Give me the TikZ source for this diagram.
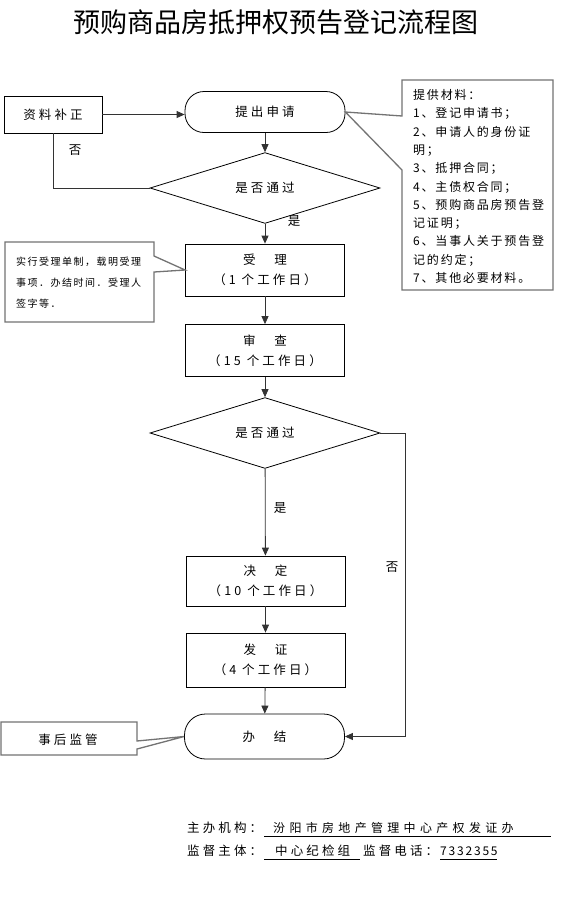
\documentclass[tikz,border=0pt]{standalone}
\usepackage{fontspec}
\setmainfont{Noto Sans CJK SC}
\newfontfamily\titlefont{Noto Sans CJK SC}
\newfontfamily\boxfont[LetterSpace=25]{Noto Sans CJK SC}
\newfontfamily\widefont[LetterSpace=36]{Noto Sans CJK SC}
\newfontfamily\notefont[LetterSpace=15]{Noto Sans CJK SC}
\usetikzlibrary{shapes.geometric, arrows.meta, positioning}

\begin{document}
\begin{tikzpicture}[
    x=1pt, y=-1pt,
    stepbox/.style={rectangle, draw=black, line width=0.8pt,
                minimum width=159pt, minimum height=52pt, inner sep=0pt,
                font=\boxfont\fontsize{12.5}{20}\selectfont, align=center},
    endbox/.style={rectangle, rounded corners=19pt, draw=black, line width=0.8pt,
                minimum width=160pt, minimum height=41pt, inner sep=0pt,
                font=\boxfont\fontsize{12.5}{14}\selectfont},
    decide/.style={diamond, draw=black, line width=0.8pt,
                minimum width=230pt, minimum height=58pt, inner sep=0pt,
                font=\boxfont\fontsize{12.5}{14}\selectfont},
    callout/.style={draw=black!55, line width=1.3pt, line join=miter},
    lbl/.style={inner sep=0pt, font=\boxfont\fontsize{12.5}{14}\selectfont},
    arr/.style={-{Triangle[length=8pt, width=7pt]}, line width=0.8pt, black!80},
    link/.style={line width=0.8pt, black!80}
]
\path[use as bounding box, fill=white] (0,0) rectangle (562,906);

\node[inner sep=0pt, font=\titlefont\fontsize{27}{30}\selectfont] (title) at (276,22)
    {预购商品房抵押权预告登记流程图};

\node[rectangle, draw=black, line width=0.8pt, minimum width=98pt, minimum height=37pt,
      inner sep=0pt, font=\boxfont\fontsize{12.5}{14}\selectfont] (fix) at (53,114.5) {资料补正};
\node[endbox] (submit) at (265,112) {提出申请};
\node[decide] (check1) at (265,188) {是否通过};
\node[stepbox] (accept) at (265,270) {受　理\\（1 个工作日）};
\node[stepbox] (review) at (265,350.5) {审　查\\（15 个工作日）};
\node[decide] (check2) at (265,433) {是否通过};
\node[stepbox, minimum height=50pt] (decision) at (265.5,581) {决　定\\（10 个工作日）};
\node[stepbox, minimum height=54pt] (issue) at (265.5,660) {发　证\\（4 个工作日）};
\node[endbox, minimum height=45pt, rounded corners=21pt] (finish) at (264.5,736.5) {办　结};
\coordinate (turn) at (405,433);

\draw[arr] (fix.east) -- (fix.east -| submit.west);
\draw[arr] (submit) -- (check1);
\draw[link] (check1.west) -| (fix.south);
\node[lbl] (no1) at (75,150) {否};
\draw[arr] (check1) -- (accept);
\node[lbl] (yes1) at (294,221) {是};
\draw[arr] (accept) -- (review);
\draw[arr] (review) -- (check2);
\draw[arr] (check2) -- (decision);
\node[lbl] (yes2) at (280,508) {是};
\draw[arr] (decision) -- (issue);
\draw[arr] (issue) -- (finish);
\draw[arr] (check2.east) -- (turn) |- (finish.east);
\node[lbl] (no2) at (392,567) {否};

\draw[callout] (402,80) -- (553,80) -- (553,290) -- (402,290) -- (402,170)
    -- (submit.east) -- (402,116) -- cycle;
\node[anchor=west, inner sep=0pt, align=left,
      font=\notefont\fontsize{12}{18.3}\selectfont] (materials) at (413,186.5)
    {提供材料：\\1、登记申请书；\\2、申请人的身份证\\明；\\3、抵押合同；\\4、主债权合同；\\
     5、预购商品房预告登\\记证明；\\6、当事人关于预告登\\记的约定；\\7、其他必要材料。};

\draw[callout] (5,242) -- (154,242) -- (154,256) -- (accept.west) -- (154,272)
    -- (154,322) -- (5,322) -- cycle;
\node[anchor=west, inner sep=0pt, align=left,
      font=\notefont\fontsize{10}{21}\selectfont] (acceptnote) at (16,283)
    {实行受理单制，载明受理\\事项．办结时间．受理人\\签字等．};

\draw[callout] (1,722) -- (137,722) -- (137,741) -- (finish.west) -- (137,749)
    -- (137,755) -- (1,755) -- cycle;
\node[lbl] (monitor) at (68,740) {事后监管};

\node[lbl, anchor=west] (host) at (187,828) {主办机构：};
\node[inner sep=0pt, anchor=west, font=\widefont\fontsize{12}{14}\selectfont] (hostname) at (273,828)
    {汾阳市房地产管理中心产权发证办};
\draw[line width=0.7pt] (264,836) -- (551,836);
\node[lbl, anchor=west] (super) at (187,851) {监督主体：};
\node[lbl, anchor=west] (supername) at (275,851) {中心纪检组};
\draw[line width=0.7pt] (264,859) -- (360,859);
\node[lbl, anchor=west] (phonelbl) at (363,851) {监督电话：};
\node[inner sep=0pt, anchor=west, font=\notefont\fontsize{12}{14}\selectfont] (phone) at (440,851) {7332355};
\draw[line width=0.7pt] (440,859) -- (497,859);
\end{tikzpicture}
\end{document}
